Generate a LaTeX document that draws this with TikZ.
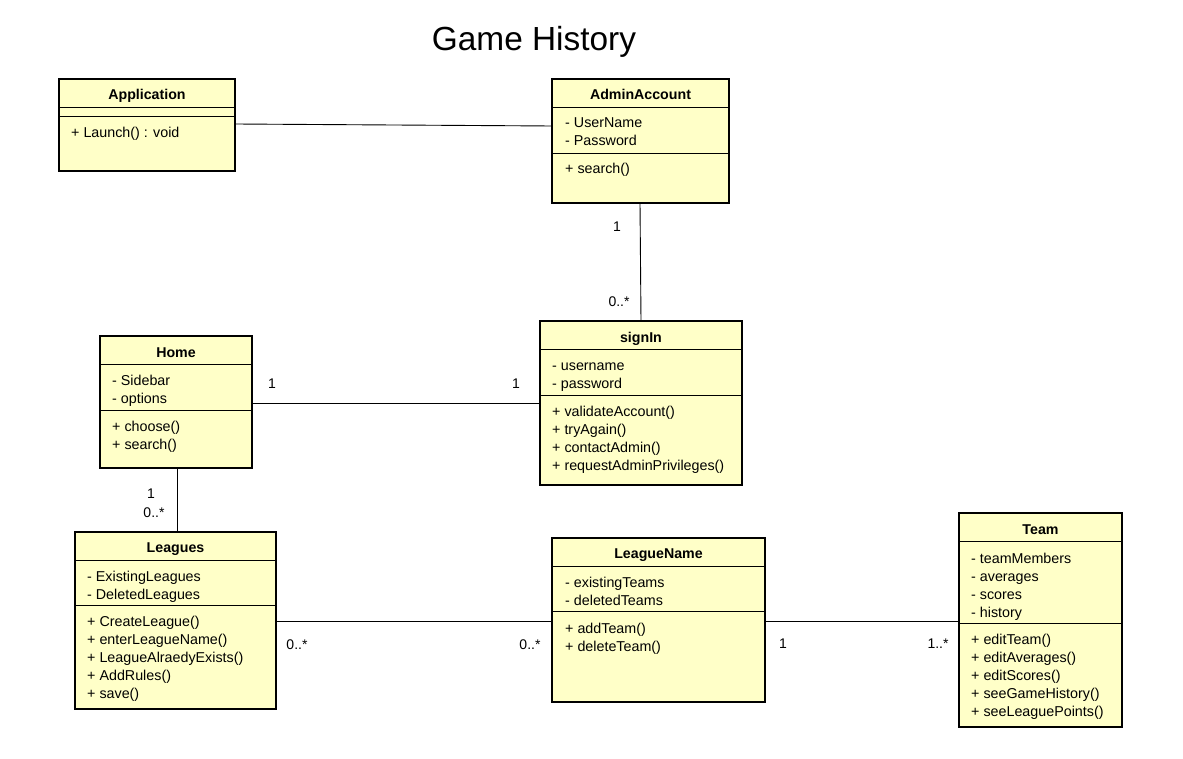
\documentclass[tikz,border=0pt]{standalone}
\usepackage{fontspec}
\setmainfont{Liberation Sans}
\definecolor{classfill}{RGB}{255,255,200}
\tikzset{
  cls/.style={draw=black, line width=1.6pt, fill=classfill, inner sep=0pt, outer sep=0pt, anchor=north west},
  sepline/.style={line width=0.9pt},
  conn/.style={line width=0.9pt},
  ttl/.style={font=\bfseries\fontsize{14.2}{17}\selectfont, inner sep=0pt, anchor=base},
  mem/.style={font=\fontsize{14.3}{17}\selectfont, inner sep=0pt, anchor=base west},
  mult/.style={font=\fontsize{14}{17}\selectfont, inner sep=0pt, anchor=base},
}
\newcommand\memlines[3]{\foreach \t [count=\i from 0] in {#3} \node[mem] at (#1, {#2+6+18*\i}) {\t};}
\newcommand\sepat[3]{\draw[sepline] ([yshift=-#2pt]#1.north west) -- ([yshift=-#2pt]#1.north east);}
\begin{document}
\begin{tikzpicture}[x=1pt, y=-1pt]
\useasboundingbox[fill=white] (0,0) rectangle (1183,759);
\node[font=\fontsize{33.4}{40}\selectfont, inner sep=0pt, anchor=base] (title) at (534,51) {Game History};

% Application
\node[cls, minimum width=176pt, minimum height=92pt] (app) at (59,79) {};
\sepat{app}{28}{}
\sepat{app}{37}{}
\node[ttl] (appt) at (147,99.5) {Application};
\memlines{71}{132}{+ Launch() : void}

% AdminAccount
\node[cls, minimum width=177pt, minimum height=124pt] (adm) at (552,79) {};
\sepat{adm}{28}{}
\sepat{adm}{74}{}
\node[ttl] (admt) at (640.5,99.5) {AdminAccount};
\memlines{565}{122}{- UserName, - Password}
\memlines{565}{168}{+ search()}

% signIn
\node[cls, minimum width=202pt, minimum height=164pt] (sgn) at (540,321) {};
\sepat{sgn}{28}{}
\sepat{sgn}{74}{}
\node[ttl] (sgnt) at (641,342.5) {signIn};
\memlines{552}{364}{- username, - password}
\memlines{552}{410}{+ validateAccount(), + tryAgain(), + contactAdmin(), + requestAdminPrivileges()}

% Home
\node[cls, minimum width=152pt, minimum height=132pt] (home) at (100,336) {};
\sepat{home}{28}{}
\sepat{home}{74}{}
\node[ttl] (homet) at (176,357.5) {Home};
\memlines{112}{379}{- Sidebar, - options}
\memlines{112}{425}{+ choose(), + search()}

% Leagues
\node[cls, minimum width=201pt, minimum height=177pt] (lea) at (75,532) {};
\sepat{lea}{28}{}
\sepat{lea}{73}{}
\node[ttl] (leat) at (175.5,552.5) {Leagues};
\memlines{87}{575}{- ExistingLeagues, - DeletedLeagues}
\memlines{87}{620}{+ CreateLeague(), + enterLeagueName(), + LeagueAlraedyExists(), + AddRules(), + save()}

% LeagueName
\node[cls, minimum width=213pt, minimum height=164pt] (ln) at (552,538) {};
\sepat{ln}{28}{}
\sepat{ln}{73}{}
\node[ttl] (lnt) at (658.5,558.5) {LeagueName};
\memlines{565}{581}{- existingTeams, - deletedTeams}
\memlines{565}{627}{+ addTeam(), + deleteTeam()}

% Team
\node[cls, minimum width=163pt, minimum height=214pt] (team) at (959,513) {};
\sepat{team}{28}{}
\sepat{team}{110}{}
\node[ttl] (teamt) at (1040.5,534.5) {Team};
\memlines{971}{557}{- teamMembers, - averages, - scores, - history}
\memlines{971}{638}{+ editTeam(), + editAverages(), + editScores(), + seeGameHistory(), + seeLeaguePoints()}

% connectors
\draw[conn] ([yshift=-45pt]app.north east) -- ([yshift=-47pt]adm.north west);
\draw[conn] ([xshift=88pt]adm.south west) -- ([xshift=101pt]sgn.north west);
\draw[conn] ([yshift=-67pt]home.north east) -- ([yshift=-82pt]sgn.north west);
\draw[conn] ([xshift=77pt]home.south west) -- ([xshift=102pt]lea.north west);
\draw[conn] ([yshift=-89pt]lea.north east) -- ([yshift=-83pt]ln.north west);
\draw[conn] ([yshift=-83pt]ln.north east) -- ([yshift=-108pt]team.north west);

% multiplicities
\node[mult] (m1) at (617,232) {1};
\node[mult] (m2) at (619,306) {0..*};
\node[mult] (m3) at (272,388) {1};
\node[mult] (m4) at (516,388) {1};
\node[mult] (m5) at (151,498) {1};
\node[mult] (m6) at (154,517) {0..*};
\node[mult] (m7) at (297,649) {0..*};
\node[mult] (m8) at (530,649) {0..*};
\node[mult] (m9) at (783,648) {1};
\node[mult] (m10) at (938,648) {1..*};
\end{tikzpicture}
\end{document}
